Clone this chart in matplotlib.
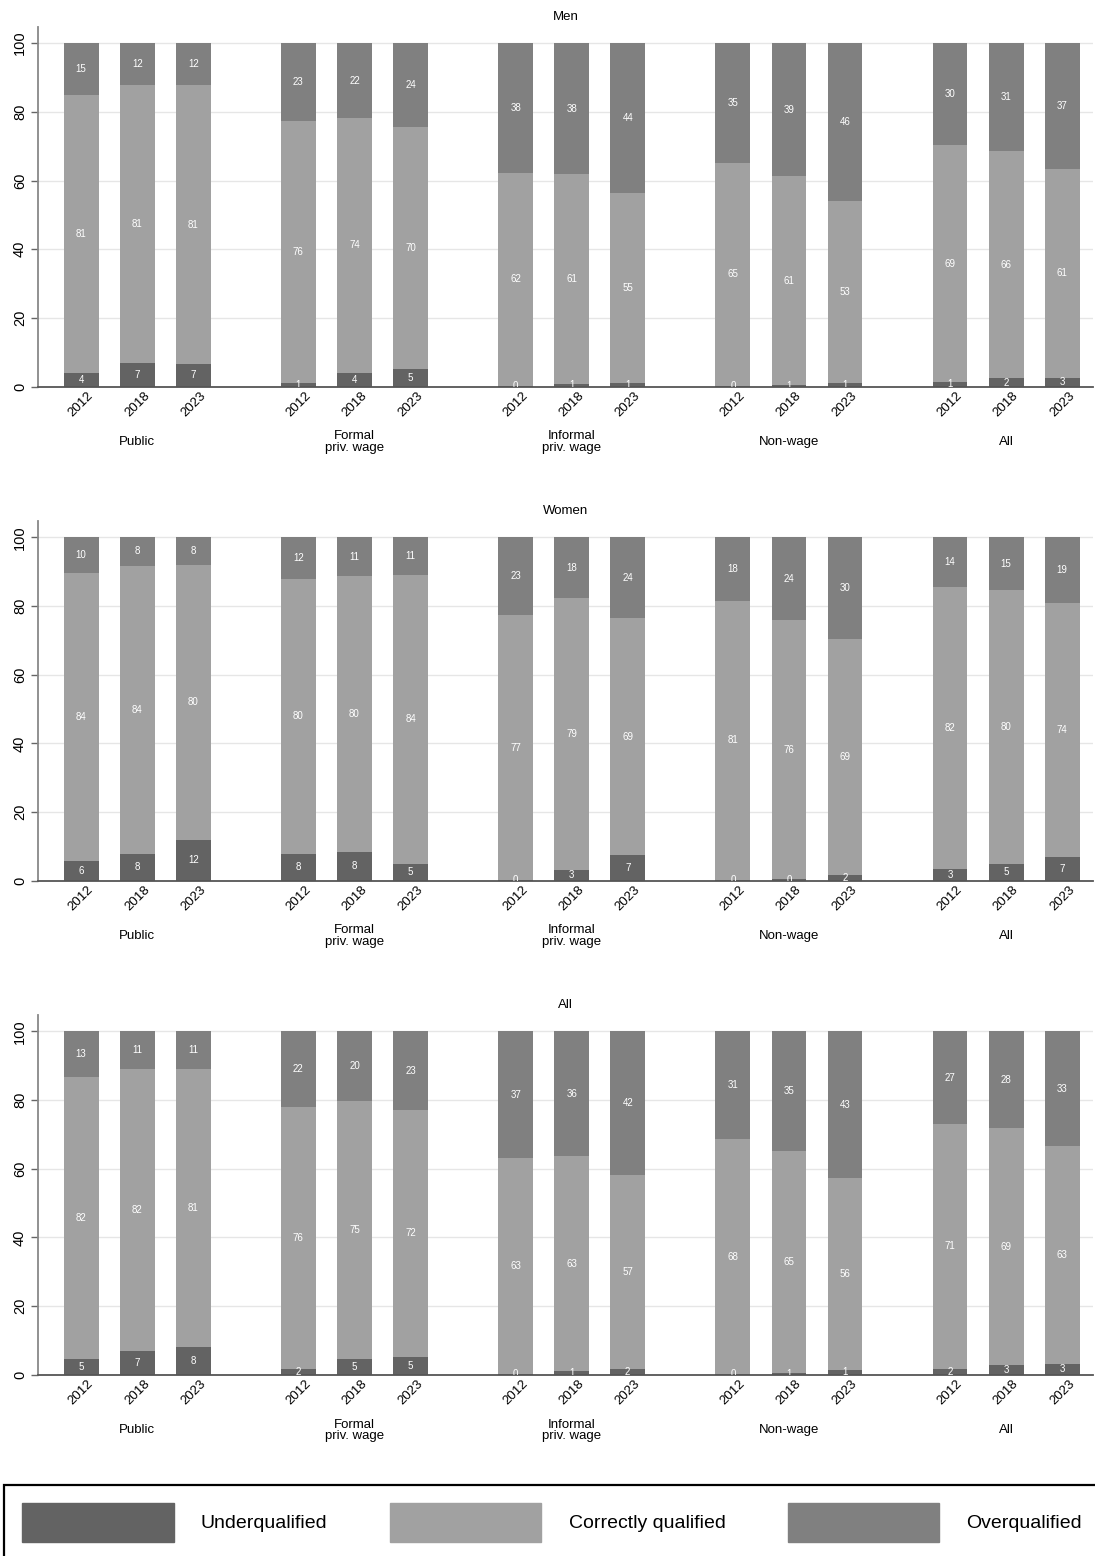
import matplotlib
matplotlib.use('Agg')
import matplotlib.pyplot as plt
import numpy as np
from matplotlib.patches import Rectangle, Patch

plt.rcParams['font.family'] = ['Liberation Sans', 'DejaVu Sans']

years = ['2012', '2018', '2023']
sectors = ['Public', 'Formal\npriv. wage', 'Informal\npriv. wage', 'Non-wage', 'All']
series_names = ['Underqualified', 'Correctly qualified', 'Overqualified']
series_colors = ['#636363', '#a1a1a1', '#808080']

# shares in %, 5 sectors x 3 years (2012, 2018, 2023)
men_under = [4.1, 6.8, 6.6, 1.1, 4.0, 5.2, 0.3, 0.7, 1.1, 0.2, 0.6, 1.1, 1.4, 2.4, 2.6]
men_correct = [80.9, 80.9, 81.1, 76.1, 74.2, 70.4, 61.8, 61.1, 55.2, 64.9, 60.6, 52.9, 68.8, 66.3, 60.8]
men_over = [15.0, 12.3, 12.3, 22.8, 21.8, 24.4, 37.9, 38.2, 43.7, 34.9, 38.8, 46.0, 29.8, 31.3, 36.6]

women_under = [5.6, 7.9, 12.0, 7.8, 8.4, 4.9, 0.2, 3.2, 7.4, 0.2, 0.4, 1.8, 3.3, 4.8, 7.0]
women_correct = [84.1, 83.9, 79.9, 80.1, 80.4, 84.2, 77.2, 79.2, 69.0, 81.4, 75.6, 68.6, 82.3, 80.0, 74.0]
women_over = [10.3, 8.2, 8.1, 12.1, 11.2, 10.9, 22.6, 17.6, 23.6, 18.4, 24.0, 29.6, 14.4, 15.2, 19.0]

all_under = [4.6, 7.0, 8.2, 1.7, 4.6, 5.1, 0.2, 1.1, 1.6, 0.2, 0.6, 1.3, 1.7, 2.7, 3.2]
all_correct = [82.0, 82.1, 80.9, 76.4, 75.2, 72.1, 63.0, 62.6, 56.6, 68.4, 64.6, 56.0, 71.4, 69.2, 63.4]
all_over = [13.4, 10.9, 10.9, 21.9, 20.2, 22.8, 36.8, 36.3, 41.8, 31.4, 34.8, 42.7, 26.9, 28.1, 33.4]

group_step = 3.875  # distance between first bars of two sectors
bar_w = 0.62


def draw_panel(ax, title, under, correct, over):
	x = np.array([g * group_step + j for g in range(len(sectors)) for j in range(len(years))])
	base = np.zeros(len(x))
	for vals, col in zip([under, correct, over], series_colors):
		vals = np.asarray(vals)
		ax.bar(x, vals, bottom=base, width=bar_w, color=col, zorder=2)
		# value in the middle of each segment, cut off at the axis like stata does
		for xi, b, v in zip(x, base, vals):
			ax.text(xi, b + v / 2, '%.0f' % v, ha='center', va='center', color='white',
					fontsize=7, clip_on=True, zorder=3)
		base = base + vals

	ax.set_xlim(-0.77, (len(sectors) - 1) * group_step + 2 + 0.55)
	ax.set_ylim(0, 104.8)
	ax.set_yticks([0, 20, 40, 60, 80, 100])
	ax.tick_params(axis='y', labelrotation=90, labelsize=10.5, length=5, width=1,
				   color='#666666', pad=3)
	for lab in ax.get_yticklabels():
		lab.set_va('center')
	ax.set_xticks(x)
	ax.set_xticklabels(years * len(sectors), rotation=45, fontsize=9.5)
	ax.tick_params(axis='x', length=0, pad=2)

	ax.yaxis.grid(True, color='#e6e6e6', lw=1)
	ax.set_axisbelow(True)
	for s in ['top', 'right']:
		ax.spines[s].set_visible(False)
	ax.spines['left'].set_color('#888888')
	ax.spines['left'].set_linewidth(1.3)
	ax.spines['bottom'].set_color('#555555')
	ax.spines['bottom'].set_linewidth(1.3)

	# sector names under the years
	for g, name in enumerate(sectors):
		ax.annotate(name, xy=(g * group_step + 1, 0), xycoords=('data', 'axes fraction'),
					xytext=(0, -40), textcoords='offset points', ha='center', va='center',
					fontsize=9.5, linespacing=0.95)
	ax.set_title(title, fontsize=9.5, pad=5)


fig = plt.figure(figsize=(10.95, 15.56), dpi=100)
left, width = 0.0347, 0.9635
ax1 = fig.add_axes([left, 0.7515, width, 0.2314])
ax2 = fig.add_axes([left, 0.4340, width, 0.2312])
ax3 = fig.add_axes([left, 0.1165, width, 0.2312])

draw_panel(ax1, 'Men', men_under, men_correct, men_over)
draw_panel(ax2, 'Women', women_under, women_correct, women_over)
draw_panel(ax3, 'All', all_under, all_correct, all_over)

# legend box, runs past the bottom and right edge like the original
fig.add_artist(Rectangle((0.004, -0.1), 1.1, 0.1456, transform=fig.transFigure,
						 fill=False, ec='black', lw=1.6))
handles = [Patch(color=c) for c in series_colors]
fig.legend(handles, series_names, loc='center left', bbox_to_anchor=(0.004, 0.0215),
		   ncol=3, frameon=False, fontsize=14, handlelength=7.8, handleheight=2.75,
		   handletextpad=1.4, columnspacing=3.2)

fig.savefig('out.png', dpi=100)
